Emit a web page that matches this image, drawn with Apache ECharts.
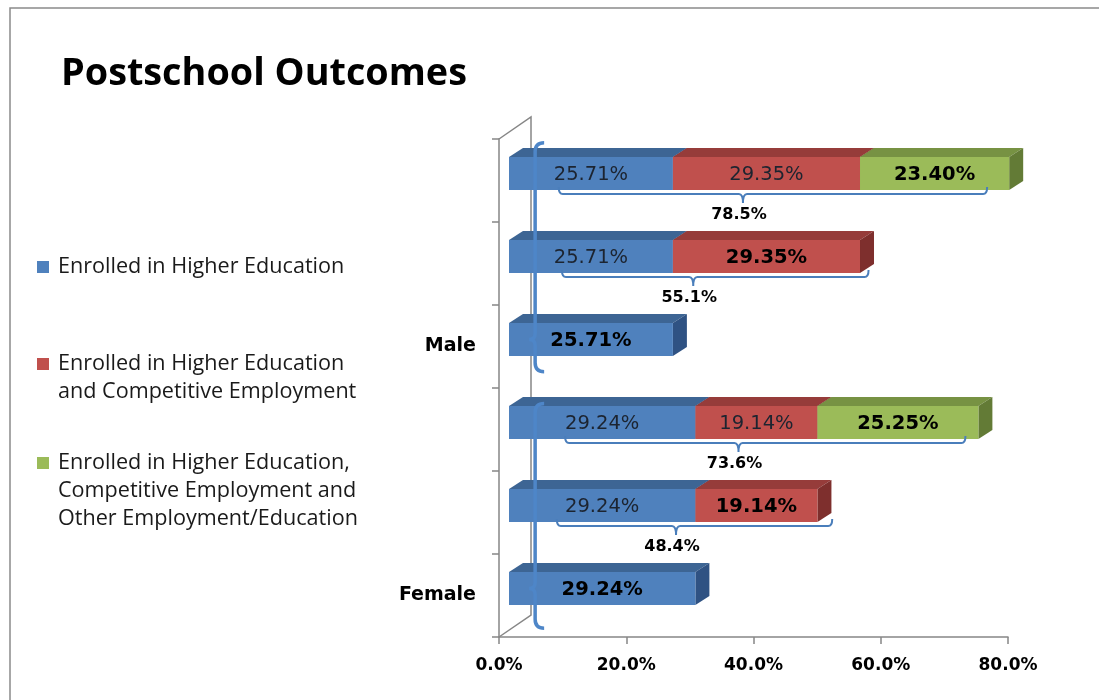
<!DOCTYPE html>
<html>
<head>
<meta charset="utf-8">
<script src="https://cdn.jsdelivr.net/npm/echarts@6/dist/echarts.min.js"></script>
<style>
html,body{margin:0;padding:0;background:#fff;}
#chart{width:1099px;height:700px;}
</style>
</head>
<body>
<div id="chart"></div>
<script>
// ---------- data (rows listed bottom to top) ----------
const categories = ['Female · HE', 'Female · HE + CE', 'Female · HE + CE + Other',
                    'Male · HE', 'Male · HE + CE', 'Male · HE + CE + Other'];
const yTickLabels = ['Female', '', '', 'Male', '', ''];
const seriesNames = [
  'Enrolled in Higher Education',
  'Enrolled in Higher Education and Competitive Employment',
  'Enrolled in Higher Education, Competitive Employment and Other Employment/Education'
];
const legendLines = [
  ['Enrolled in Higher Education'],
  ['Enrolled in Higher Education', 'and Competitive Employment'],
  ['Enrolled in Higher Education,', 'Competitive Employment and', 'Other Employment/Education']
];
const higherEd       = [29.24, 29.24, 29.24, 25.71, 25.71, 25.71];
const competitiveEmp = [null, 19.14, 19.14, null, 29.35, 29.35];
const otherEmpEdu    = [null, null, 25.25, null, null, 23.40];
const totals         = [null, 48.4, 73.6, null, 55.1, 78.5];
// bracket annotation extents (in axis % units)
const bracketFrom    = [null, 7.5, 8.8, null, 8.3, 7.8];
const bracketTo      = [null, 50.7, 71.6, null, 56.4, 75.0];
const bracketTip     = [null, 26.2, 36.0, null, 28.9, 36.7];
// group braces: [x (%), top (rows), bottom (rows), notch row]
const groupBraces    = [[4.1, 5.37, 2.61, 3], [4.1, 2.23, -0.48, 0]];
const xMin = 0, xMax = 80, xStep = 20;

// ---------- styles ----------
const palette = [
  {front: '#4F81BD', top: '#3D6594', side: '#2F5283'},
  {front: '#C0504D', top: '#963C3A', side: '#7E2F2D'},
  {front: '#9BBB59', top: '#779243', side: '#637B36'}
];
const LABEL_FONT = '"DejaVu Sans", Verdana, sans-serif';
const BAR_H = 33, DX = 14, DY = 9;
const BRACE_COLOR = '#4A7EBB';

const seriesValues = [higherEd, competitiveEmp, otherEmpEdu];

function buildBarData(s) {
  const out = [];
  for (let r = 0; r < categories.length; r++) {
    const v = seriesValues[s][r];
    if (v == null) continue;
    let start = 0;
    for (let k = 0; k < s; k++) start += (seriesValues[k][r] || 0);
    let isLast = 1;
    for (let k = s + 1; k < seriesValues.length; k++) if (seriesValues[k][r] != null) isLast = 0;
    out.push([start, start + v, r, v, isLast]);
  }
  return out;
}

function renderBar(params, api) {
  const s = params.seriesIndex;
  const c = palette[s];
  const start = api.value(0), end = api.value(1), row = api.value(2);
  const v = api.value(3), isLast = api.value(4);
  const p0 = api.coord([start, row]);
  const p1 = api.coord([end, row]);
  const x0 = p0[0], x1 = p1[0];
  const yT = p0[1] - BAR_H / 2, yB = p0[1] + BAR_H / 2;
  return {
    type: 'group',
    children: [
      {type: 'polygon', shape: {points: [[x0, yT], [x0 + DX, yT - DY], [x1 + DX, yT - DY], [x1, yT]]},
       style: {fill: c.top}},
      {type: 'polygon', shape: {points: [[x1, yT], [x1 + DX, yT - DY], [x1 + DX, yB - DY], [x1, yB]]},
       style: {fill: c.side}},
      {type: 'rect', shape: {x: x0, y: yT, width: x1 - x0, height: BAR_H}, style: {fill: c.front}},
      {type: 'text', z2: 10, style: {
        text: v.toFixed(2) + '%', x: (x0 + x1) / 2, y: p0[1] + 1,
        align: 'center', verticalAlign: 'middle',
        fontFamily: LABEL_FONT, fontSize: 19.5, fontWeight: isLast ? 'bold' : 'normal',
        fill: isLast ? '#000' : '#1c2430'
      }}
    ]
  };
}

const bracketData = [];
for (let r = 0; r < categories.length; r++) {
  if (totals[r] == null) continue;
  bracketData.push([bracketFrom[r], bracketTo[r], bracketTip[r], r, totals[r]]);
}

function renderBracket(params, api) {
  const row = api.value(3);
  const a = api.coord([api.value(0), row]);
  const b = api.coord([api.value(1), row]);
  const t = api.coord([api.value(2), row]);
  const y = a[1] + BAR_H / 2 + 4;
  const xa = a[0], xb = b[0], xt = t[0];
  const d = `M${xa},${y - 7} Q${xa},${y} ${xa + 4},${y} L${xt - 4},${y} Q${xt},${y} ${xt},${y + 9}` +
            ` Q${xt},${y} ${xt + 4},${y} L${xb - 4},${y} Q${xb},${y} ${xb},${y - 7}`;
  return {
    type: 'group',
    children: [
      {type: 'path', shape: {pathData: d}, style: {stroke: BRACE_COLOR, lineWidth: 2, fill: null}},
      {type: 'text', style: {
        text: api.value(4).toFixed(1) + '%', x: xt - 4, y: y + 21,
        align: 'center', verticalAlign: 'middle',
        fontFamily: LABEL_FONT, fontSize: 16, fontWeight: 'bold', fill: '#000'
      }}
    ]
  };
}

function renderBrace(params, api) {
  const x = api.value(0);
  const notchRow = api.value(3);
  const n = api.coord([x, notchRow]);
  const rowH = api.size([0, 1])[1];
  const rowToY = v => n[1] - (v - notchRow) * rowH;
  const px = n[0], yT = rowToY(api.value(1)), yB = rowToY(api.value(2)), yN = n[1];
  const d = `M${px + 9},${yT} Q${px},${yT} ${px},${yT + 9} L${px},${yN - 6} Q${px},${yN} ${px - 6},${yN}` +
            ` Q${px},${yN} ${px},${yN + 6} L${px},${yB - 9} Q${px},${yB} ${px + 9},${yB}`;
  return {type: 'path', shape: {pathData: d}, style: {stroke: '#4E86C8', lineWidth: 3.5, fill: null}};
}

const chart = echarts.init(document.getElementById('chart'), null, {renderer: 'canvas'});

const legendTops = [253, 322, 393];
const legends = seriesNames.map((name, i) => ({
  show: true,
  data: [name],
  orient: 'vertical',
  left: 37,
  top: legendTops[i],
  padding: 0,
  icon: 'rect',
  itemWidth: 12,
  itemHeight: 12,
  selectedMode: false,
  formatter: () => '\n'.repeat(legendLines[i].length - 1) + legendLines[i].join('\n'),
  textStyle: {fontFamily: '"Open Sans", sans-serif', fontSize: 21.6, lineHeight: 28,
              color: '#1a1a1a', padding: [0, 0, 0, 4]}
}));

const axisGray = '#868686';

const option = {
  backgroundColor: '#fff',
  animation: false,
  title: {
    text: 'Postschool Outcomes',
    left: 61, top: 55, padding: 0,
    textStyle: {fontFamily: '"Open Sans", sans-serif', fontSize: 37.8, fontWeight: 'bold', color: '#000'}
  },
  legend: legends,
  grid: [
    {left: 499, top: 139, width: 509, height: 498},
    {left: 509, top: 132, width: 510, height: 498}
  ],
  xAxis: [
    {type: 'value', gridIndex: 0, min: xMin, max: xMax, interval: xStep,
     axisLine: {show: true, lineStyle: {color: axisGray, width: 1.5}},
     axisTick: {show: true, length: 7, lineStyle: {color: axisGray, width: 1.5}},
     splitLine: {show: false},
     axisLabel: {margin: 20, fontFamily: LABEL_FONT, fontSize: 17, fontWeight: 'bold', color: '#000',
                 formatter: v => v.toFixed(1) + '%'}},
    {type: 'value', gridIndex: 1, min: xMin, max: xMax, interval: xStep, show: false,
     splitLine: {show: false}}
  ],
  yAxis: [
    {type: 'category', gridIndex: 0, data: categories,
     axisLine: {show: true, lineStyle: {color: axisGray, width: 1.5}},
     axisTick: {show: true, length: 7, lineStyle: {color: axisGray, width: 1.5}},
     axisLabel: {margin: 23, fontFamily: LABEL_FONT, fontSize: 19, fontWeight: 'bold', color: '#000',
                 interval: 0, formatter: (v, i) => yTickLabels[i]}},
    {type: 'category', gridIndex: 1, data: categories, show: false}
  ],
  graphic: [
    {type: 'rect', z: -1, shape: {x: 10, y: 8, width: 1200, height: 800},
     style: {fill: null, stroke: '#8a8a8a', lineWidth: 1.5}},
    {type: 'polyline', z: -1, shape: {points: [[499, 139], [531, 117], [531, 615], [499, 637]]},
     style: {fill: null, stroke: axisGray, lineWidth: 1.5}}
  ],
  series: [
    ...seriesNames.map((name, s) => ({
      type: 'custom', name: name, xAxisIndex: 1, yAxisIndex: 1,
      itemStyle: {color: palette[s].front},
      encode: {x: [0, 1], y: 2},
      clip: false,
      renderItem: renderBar,
      data: buildBarData(s)
    })),
    {type: 'custom', name: 'totals', xAxisIndex: 1, yAxisIndex: 1, clip: false,
     encode: {x: [0, 1], y: 3}, renderItem: renderBracket, data: bracketData, silent: true},
    {type: 'custom', name: 'groups', xAxisIndex: 1, yAxisIndex: 1, clip: false,
     dimensions: [{name: 'x', type: 'float'}, {name: 'top', type: 'float'},
                  {name: 'bottom', type: 'float'}, {name: 'notch', type: 'int'}],
     encode: {x: 0, y: 3}, renderItem: renderBrace, data: groupBraces, silent: true}
  ]
};
chart.setOption(option);
</script>
</body>
</html>
